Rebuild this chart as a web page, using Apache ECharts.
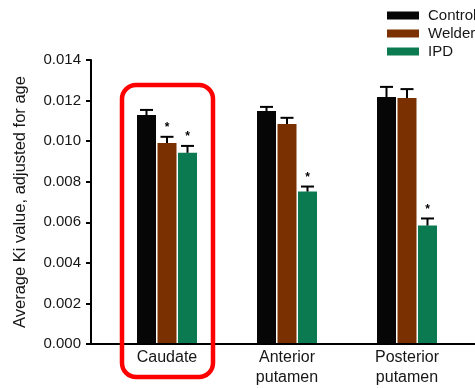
<!DOCTYPE html>
<html>
<head>
<meta charset="utf-8">
<script src="https://cdn.jsdelivr.net/npm/echarts@6/dist/echarts.min.js"></script>
<style>
  html, body { margin: 0; padding: 0; background: #fff; }
  #chart { width: 475px; height: 388px; }
</style>
</head>
<body>
<div id="chart"></div>
<script>
// Regions of the striatum
const categories = ['Caudate', 'Anterior\nputamen', 'Posterior\nputamen'];

// Group means (Ki, adjusted for age) and standard errors
const control    = [0.01128, 0.01148, 0.01217];
const controlErr = [0.00025, 0.00020, 0.00050];
const welder     = [0.00990, 0.01084, 0.01212];
const welderErr  = [0.00030, 0.00030, 0.00044];
const ipd        = [0.00941, 0.00749, 0.00581];
const ipdErr     = [0.00034, 0.00025, 0.00035];

// Significant difference from controls
const controlSig = [false, false, false];
const welderSig  = [true, false, false];
const ipdSig     = [true, true, true];

const yTicks = [0, 0.002, 0.004, 0.006, 0.008, 0.010, 0.012, 0.014];

const FONT = '"Liberation Sans", Arial, Helvetica, sans-serif';
const TEXT = '#161616';
const BAR_W = 19;
const BAR_GAP = 1.5;

const groups = [
  { name: 'Control', color: '#060606', values: control, err: controlErr, sig: controlSig },
  { name: 'Welder',  color: '#7a3000', values: welder,  err: welderErr,  sig: welderSig },
  { name: 'IPD',     color: '#0b7a50', values: ipd,     err: ipdErr,     sig: ipdSig }
];

const chart = echarts.init(document.getElementById('chart'));

// Upper error whisker with cap, plus an asterisk for significant groups
function errorSeries(g, idx) {
  const offset = (idx - 1) * (BAR_W + BAR_GAP);
  return {
    type: 'custom',
    xAxisIndex: 1,
    yAxisIndex: 1,
    z: 5,
    silent: true,
    data: g.values.map((v, i) => [i, v, v + g.err[i], g.sig[i] ? 1 : 0]),
    renderItem: function (params, api) {
      const base = api.coord([api.value(0), api.value(1)]);
      const top = api.coord([api.value(0), api.value(2)]);
      const x = base[0] + offset;
      const half = 6.5;
      const children = [
        { type: 'line', shape: { x1: x, y1: base[1], x2: x, y2: top[1] },
          style: { stroke: '#000', lineWidth: 2 } },
        { type: 'line', shape: { x1: x - half, y1: top[1], x2: x + half, y2: top[1] },
          style: { stroke: '#000', lineWidth: 2 } }
      ];
      if (api.value(3)) {
        children.push({
          type: 'text',
          style: {
            x: x, y: top[1] - 3, text: '*', fill: '#000',
            font: 'bold 12px ' + FONT, align: 'center', verticalAlign: 'bottom'
          }
        });
      }
      return { type: 'group', children: children };
    }
  };
}

const option = {
  animation: false,
  backgroundColor: '#fff',
  legend: {
    orient: 'vertical',
    left: 387,
    top: 8,
    padding: 0,
    itemWidth: 32,
    itemHeight: 8,
    itemGap: 3,
    icon: 'rect',
    textStyle: { fontFamily: FONT, fontSize: 15, color: TEXT, padding: [0, 0, 0, 4] },
    data: groups.map(g => g.name)
  },
  grid: [
    { left: 91, right: -5, top: 60, bottom: 44 },
    { left: 107, width: 360, top: 60, bottom: 44 }
  ],
  xAxis: [
    {
      type: 'category', gridIndex: 0, data: categories,
      axisLine: { lineStyle: { color: '#000', width: 2 } },
      axisTick: { show: false }, axisLabel: { show: false }
    },
    {
      type: 'category', gridIndex: 1, data: categories,
      axisLine: { show: false }, axisTick: { show: false },
      axisLabel: {
        fontFamily: FONT, fontSize: 16, color: TEXT,
        lineHeight: 20, margin: 5
      }
    }
  ],
  yAxis: [
    {
      type: 'value', gridIndex: 0,
      min: yTicks[0], max: yTicks[yTicks.length - 1], interval: 0.002,
      name: 'Average Ki value, adjusted for age',
      nameLocation: 'middle', nameGap: 62,
      nameTextStyle: { fontFamily: FONT, fontSize: 16.5, color: TEXT },
      axisLine: { show: true, lineStyle: { color: '#000', width: 2 } },
      axisTick: { show: true, length: 5, lineStyle: { color: '#000', width: 2 } },
      axisLabel: {
        fontFamily: FONT, fontSize: 15, color: TEXT, margin: 10,
        formatter: v => v.toFixed(3)
      },
      splitLine: { show: false }
    },
    {
      type: 'value', gridIndex: 1,
      min: yTicks[0], max: yTicks[yTicks.length - 1], interval: 0.002,
      show: false, splitLine: { show: false }
    }
  ],
  series: groups.map(g => ({
    type: 'bar',
    name: g.name,
    xAxisIndex: 1, yAxisIndex: 1,
    barWidth: BAR_W,
    barGap: (BAR_GAP / BAR_W * 100) + '%',
    itemStyle: { color: g.color },
    data: g.values
  })).concat(groups.map((g, i) => errorSeries(g, i)))
};

chart.setOption(option);

// Red rounded frame highlighting the caudate group
const cx = chart.convertToPixel({ xAxisIndex: 1 }, categories[0]);
chart.setOption({
  graphic: [{
    type: 'rect',
    z: 100,
    shape: { x: cx - 45, y: 85, width: 91, height: 292, r: 14 },
    style: { fill: 'none', stroke: '#ff0000', lineWidth: 4.5 }
  }]
});
</script>
</body>
</html>
